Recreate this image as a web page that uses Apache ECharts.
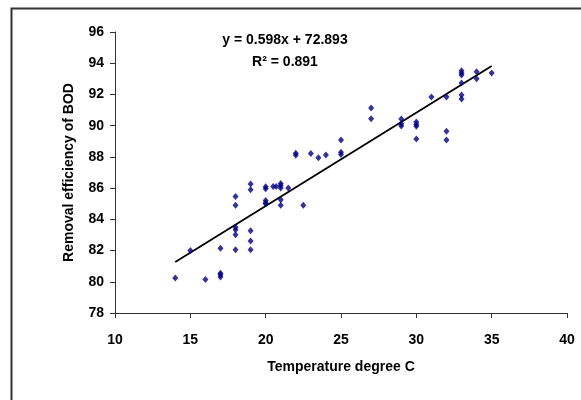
<!DOCTYPE html>
<html>
<head>
<meta charset="utf-8">
<script src="https://cdn.jsdelivr.net/npm/echarts@6/dist/echarts.min.js"></script>
<style>
html,body{margin:0;padding:0;background:#fff;}
#chart{width:581px;height:400px;}
</style>
</head>
<body>
<div id="chart"></div>
<script>
// Temperature (degree C)
var temps = [
  14, 15, 16,
  17, 17, 17, 17,
  18, 18, 18, 18, 18, 18,
  19, 19, 19, 19, 19,
  20, 20, 20, 20, 20,
  20.5, 20.7,
  21, 21, 21, 21, 21,
  21.5, 22, 22, 22.5, 23, 23.5, 24,
  25, 25, 25,
  27, 27,
  29, 29, 29,
  30, 30, 30, 30,
  31,
  32, 32, 32,
  33, 33, 33, 33, 33, 33,
  34, 34, 35
];
// Removal efficiency of BOD (%)
var removal = [
  80.25, 82.0, 80.15,
  82.15, 80.55, 80.45, 80.3,
  85.47, 84.9, 83.49, 83.34, 83.02, 82.05,
  86.26, 85.9, 83.27, 82.61, 82.05,
  86.09, 85.96, 85.2, 85.07, 85.0,
  86.1, 86.1,
  86.3, 86.16, 86.0, 85.26, 84.9,
  86.0, 88.23, 88.1, 84.9, 88.22, 87.95, 88.12,
  89.08, 88.29, 88.16,
  91.13, 90.45,
  90.43, 90.13, 89.98,
  90.23, 90.08, 89.96, 89.15,
  91.84,
  91.84, 89.64, 89.08,
  93.52, 93.37, 93.25, 92.73, 91.96, 91.71,
  93.46, 93.0, 93.37
];
var slope = 0.598;
var intercept = 72.893;
var equationText = 'y = 0.598x + 72.893';
var r2Text = 'R\u00B2 = 0.891';
var xTitle = 'Temperature degree C';
var yTitle = 'Removal efficiency of BOD';

var points = temps.map(function (t, i) { return [t, removal[i]]; });
var xMin = Math.min.apply(null, temps);
var xMax = Math.max.apply(null, temps);
var trend = [[xMin, slope * xMin + intercept], [xMax, slope * xMax + intercept]];

var FONT = '"Liberation Sans", Arial, sans-serif';
var chart = echarts.init(document.getElementById('chart'), null, {renderer: 'canvas'});
chart.setOption({
  backgroundColor: '#fff',
  animation: false,
  grid: {left: 115, right: 14, top: 32, bottom: 87, containLabel: false},
  xAxis: {
    type: 'value', min: 10, max: 40, interval: 5,
    name: xTitle, nameLocation: 'middle', nameGap: 47,
    nameTextStyle: {fontFamily: FONT, fontWeight: 'bold', fontSize: 14, color: '#000'},
    axisLine: {show: true, onZero: false, lineStyle: {color: '#333', width: 1}},
    axisTick: {show: true, inside: false, length: 5, lineStyle: {color: '#333'}},
    axisLabel: {fontFamily: FONT, fontWeight: 'bold', fontSize: 14, color: '#000', margin: 20},
    splitLine: {show: false}
  },
  yAxis: {
    type: 'value', min: 78, max: 96, interval: 2,
    name: yTitle, nameLocation: 'middle', nameGap: 39,
    nameTextStyle: {fontFamily: FONT, fontWeight: 'bold', fontSize: 14, color: '#000'},
    axisLine: {show: true, onZero: false, lineStyle: {color: '#333', width: 1}},
    axisTick: {show: true, inside: false, length: 5, lineStyle: {color: '#333'}},
    axisLabel: {fontFamily: FONT, fontWeight: 'bold', fontSize: 14, color: '#000', margin: 11},
    splitLine: {show: false}
  },
  series: [
    {
      type: 'line', data: trend, symbol: 'none', silent: true, z: 1,
      lineStyle: {color: '#000', width: 1.8}
    },
    {
      type: 'scatter', data: points, symbol: 'diamond', symbolSize: [6, 7], z: 2,
      itemStyle: {color: '#000080'}
    }
  ],
  graphic: [
    {type: 'rect', left: 9, top: 6, shape: {width: 620, height: 420},
     style: {fill: 'none', stroke: '#333', lineWidth: 2}, silent: true},
    {type: 'text', x: 285, y: 40, style: {text: equationText, fill: '#000',
      font: 'bold 14px ' + FONT, textAlign: 'center', textVerticalAlign: 'middle'}},
    {type: 'text', x: 285, y: 62, style: {text: r2Text, fill: '#000',
      font: 'bold 14px ' + FONT, textAlign: 'center', textVerticalAlign: 'middle'}}
  ]
});
</script>
</body>
</html>
